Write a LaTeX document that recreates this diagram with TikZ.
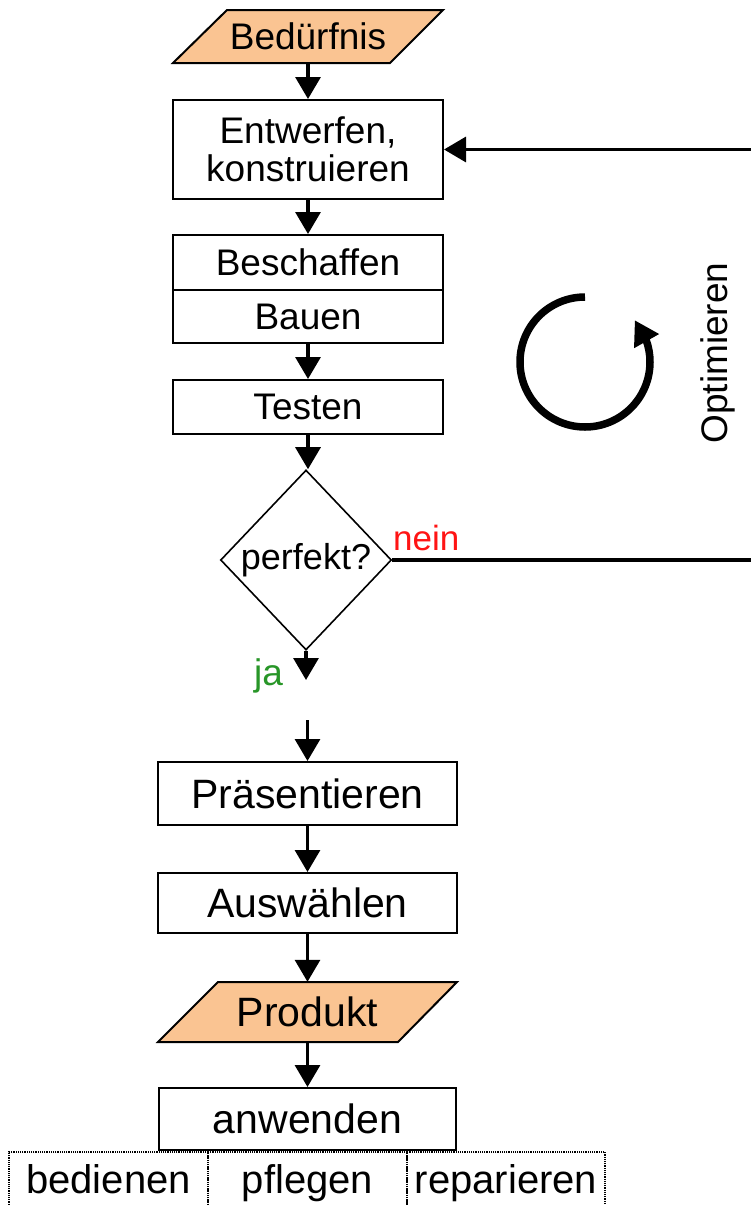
\documentclass[tikz,border=0pt]{standalone}
\usepackage{fontspec}
\setmainfont{Liberation Sans}
\usetikzlibrary{arrows.meta,shapes.geometric,bending}
\definecolor{tanfill}{RGB}{250,196,146}
\definecolor{neinred}{RGB}{255,20,20}
\definecolor{jagreen}{RGB}{40,150,40}
\begin{document}
\begin{tikzpicture}[x=1pt,y=-1pt,
 box/.style={draw, line width=2pt, inner sep=0pt, align=center},
 upper/.style={font=\fontsize{37}{38}\selectfont},
 lower/.style={font=\fontsize{41}{42}\selectfont},
 conn/.style={line width=3.2pt, -{Triangle[length=22pt,width=25pt]}},
 para/.style={draw, line width=2pt, fill=tanfill},
 cell/.style={draw, densely dotted, line width=1.2pt, inner sep=0pt, minimum height=63pt, text height=29pt, text depth=10pt, font=\fontsize{40}{41}\selectfont}
]
\useasboundingbox (0,0) rectangle (751,1205);
\begin{scope}
\clip (0,0) rectangle (751,1205);
\fill[white] (0,0) rectangle (751,1205);
% top
\draw[para] (173,63) -- (227,10) -- (443,10) -- (390,63) -- cycle;
\node[upper, minimum width=270pt, minimum height=53pt, inner sep=0pt] (bed) at (308,36.5) {Bedürfnis};
\node[box, upper, minimum width=270pt, minimum height=99pt] (ent) at (308,149.5) {Entwerfen,\\konstruieren};
\node[box, upper, minimum width=270pt, minimum height=55pt] (bes) at (308,262.5) {Beschaffen};
\node[box, upper, minimum width=270pt, minimum height=53pt] (bau) at (308,316.5) {Bauen};
\node[box, upper, minimum width=270pt, minimum height=54pt] (tes) at (308,407) {Testen};
\node[draw, diamond, line width=1.6pt, minimum width=171pt, minimum height=180pt, inner sep=0pt, font=\fontsize{36}{37}\selectfont] (dia) at (306,560) {perfekt?};
% labels
\node[anchor=base west, text=neinred, font=\fontsize{35}{36}\selectfont, inner sep=0pt] (nein) at (393,550) {nein};
\node[anchor=base west, text=jagreen, font=\fontsize{37}{38}\selectfont, inner sep=0pt] (ja) at (254,685) {ja};
\node[rotate=90, upper] (opt) at (718,353) {Optimieren};
% cycle arrow
\draw[line width=7.5pt, -{Triangle[length=24pt,width=27pt]}] (585,297) arc[start angle=90, end angle=400, radius=65pt];
% lower
\node[box, lower, minimum width=299pt, minimum height=63pt] (pra) at (307.5,793.5) {Präsentieren};
\node[box, lower, minimum width=299pt, minimum height=60pt] (aus) at (307.5,903) {Auswählen};
\draw[para] (158,1042) -- (218,982) -- (457,982) -- (398,1042) -- cycle;
\node[lower, minimum height=60pt, minimum width=240pt, inner sep=0pt] (pro) at (307.5,1012) {Produkt};
\node[cell, minimum width=199pt] (bdn) at (108.5,1183.5) {bedienen};
\node[cell, minimum width=199pt] (pfl) at (307.5,1183.5) {pflegen};
\node[cell, minimum width=198pt] (rep) at (506,1183.5) {reparieren};
\node[box, lower, minimum width=297pt, minimum height=62pt, fill=white] (anw) at (307.5,1119) {anwenden};
% connectors
\coordinate (jaend) at (307,680);
\coordinate (pstart) at (307.5,720);
\coordinate (rb) at (770,560);
\draw[conn] (bed) -- (ent);
\draw[conn] (ent) -- (bes);
\draw[conn] (bau) -- (tes);
\draw[conn] (tes.south) -- (tes.south |- dia.north);
\draw[conn] (dia.south) -- (dia.south |- jaend);
\draw[conn] (pstart) -- (pra);
\draw[conn] (pra) -- (aus);
\draw[conn] (aus) -- (pro);
\draw[conn] (pro) -- (anw);
\draw[conn] (dia.east) -- (rb) |- (ent.east);
\end{scope}
\end{tikzpicture}
\end{document}
